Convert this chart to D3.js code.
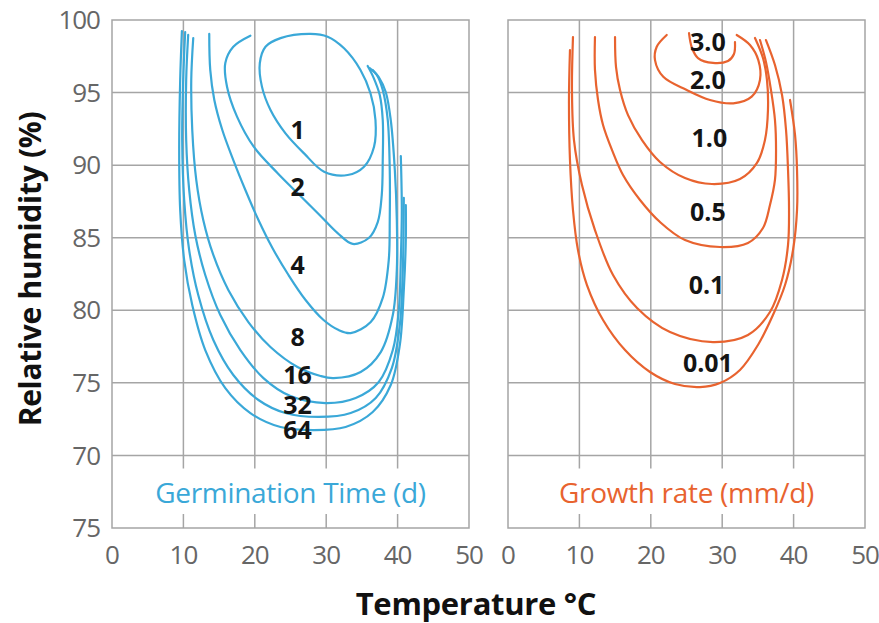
<!DOCTYPE html>
<html>
<head>
<meta charset="utf-8">
<script src="https://cdn.jsdelivr.net/npm/d3@7"></script>
<style>
	body { margin: 0; background: #fff; }
	svg text { font-family: "Open Sans", "Noto Sans", sans-serif; }
</style>
</head>
<body>
<div id="svg-container"></div>
<script>
// temperature (°C) / relative humidity (%) values
var tempTicks = [0, 10, 20, 30, 40, 50];
var humTicks = [65, 70, 75, 80, 85, 90, 95, 100];
var humTickLabels = ["75", "70", "75", "80", "85", "90", "95", "100"];

// germination time (d) isolines
var germLevels = ["1", "2", "4", "8", "16", "32", "64"];
var germ1 = [[27.8,99.04],[23.6,98.75],[21.5,98.16],[20.7,97.02],[21.0,95.41],[22.2,93.80],[24.3,92.19],[26.9,90.81],[29.7,89.55],[33.0,89.32],[35.3,89.89],[36.7,91.27],[36.9,93.11],[36.2,94.95],[34.8,96.56],[32.5,98.05],[30.2,98.85]];
var germ2 = [[19.38,98.92],[16.99,98.16],[15.87,97.04],[16.11,95.40],[17.51,93.34],[19.85,91.27],[23.17,89.46],[26.40,87.87],[29.21,86.50],[31.60,85.32],[33.71,84.57],[35.96,84.98],[37.22,86.08],[37.78,87.94],[37.92,90.35],[37.92,93.11],[37.50,94.83],[36.66,96.00],[35.81,96.83]];
var germ4 = [[13.62,99.04],[13.76,96.56],[14.33,94.49],[15.45,92.42],[16.99,90.35],[18.68,88.29],[20.51,86.22],[22.47,84.29],[24.72,82.43],[27.11,80.71],[29.63,79.33],[31.74,78.64],[33.43,78.43],[36.24,79.19],[37.92,80.85],[38.76,83.46],[38.90,86.22],[38.90,89.67],[38.62,93.11],[37.92,95.18],[37.08,96.21],[36.10,96.69]];
var germ8 = [[11.38,98.76],[11.10,95.87],[11.24,92.42],[11.80,88.98],[12.78,86.22],[14.19,83.81],[16.29,81.40],[19.10,79.19],[22.19,77.47],[25.98,76.09],[29.21,75.47],[31.04,75.33],[34.83,75.75],[37.64,77.12],[39.33,79.67],[39.89,82.78],[39.89,86.22],[39.61,89.67],[39.04,93.11],[38.34,95.04],[37.36,96.07],[36.52,96.56]];
var germ16 = [[10.67,98.97],[10.39,95.87],[10.39,91.73],[10.81,88.29],[11.66,85.19],[13.06,82.43],[15.17,79.67],[17.98,77.26],[21.21,75.33],[25.00,74.09],[29.92,73.61],[34.13,73.96],[37.36,75.06],[39.33,77.26],[40.17,80.02],[40.45,83.46],[40.59,86.91],[40.45,90.63]];
var germ32 = [[10.25,99.17],[9.97,95.87],[9.83,91.73],[10.11,87.60],[10.81,84.15],[12.08,81.05],[14.19,77.95],[16.99,75.54],[20.51,73.82],[24.30,72.92],[28.93,72.65],[33.43,72.92],[36.94,73.96],[39.19,76.02],[40.31,78.99],[40.73,82.78],[40.87,87.74]];
var germ64 = [[9.79,99.24],[9.55,95.87],[9.41,91.04],[9.55,86.91],[10.11,83.46],[11.24,80.36],[13.06,77.26],[15.87,74.64],[19.38,72.92],[23.60,71.96],[28.23,71.75],[32.72,71.96],[36.52,72.99],[39.04,74.85],[40.31,77.61],[40.87,81.40],[41.15,84.84],[41.15,87.25]];
var germLabelTemp = [26.0, 26.0, 26.0, 26.0, 26.0, 26.0, 26.0];
var germLabelHum = [92.42, 88.51, 83.12, 78.18, 75.54, 73.47, 71.75];

// growth rate (mm/d) isolines
var growthLevels = ["3.0", "2.0", "1.0", "0.5", "0.1", "0.01"];
var grow30 = [[25.35,99.10],[25.77,98.07],[26.61,97.38],[28.71,97.04],[30.81,97.18],[31.65,97.66],[31.79,98.48]];
var grow20 = [[22.23,98.97],[20.83,98.16],[20.59,97.24],[21.75,96.09],[25.03,95.18],[28.29,94.49],[31.55,94.26],[34.13,94.72],[35.29,95.87],[35.06,97.24],[33.89,98.28],[32.03,98.97]];
var grow10 = [[14.99,98.83],[15.13,96.76],[15.69,95.18],[16.81,93.45],[18.77,91.73],[21.29,90.22],[24.79,89.11],[28.57,88.70],[32.49,89.04],[34.87,90.15],[35.99,91.73],[36.41,93.80],[36.27,95.87],[35.71,97.38],[34.59,98.76]];
var grow05 = [[12.18,98.83],[12.18,96.56],[12.61,94.49],[13.31,92.77],[14.57,91.04],[16.11,89.32],[18.49,87.60],[21.29,86.08],[24.79,84.84],[29.69,84.36],[33.61,84.64],[35.71,85.67],[36.69,87.25],[37.39,88.98],[37.54,91.04],[37.39,93.11],[36.83,95.18],[36.13,97.11],[35.29,98.62]];
var grow01 = [[9.10,98.83],[8.96,95.18],[9.24,91.73],[10.36,88.63],[12.18,85.53],[14.71,82.43],[18.07,80.16],[22.69,78.50],[28.71,77.81],[33.61,78.30],[36.69,79.88],[38.38,82.09],[39.22,84.50],[39.36,86.91],[39.22,89.67],[38.94,92.42],[38.38,94.83],[37.39,96.90],[36.13,98.62]];
var grow001 = [[8.68,97.93],[8.54,94.49],[8.68,90.35],[9.10,86.91],[9.80,84.15],[11.06,81.74],[13.31,79.33],[16.39,77.26],[19.89,75.75],[23.39,74.92],[26.89,74.71],[29.69,74.99],[32.49,75.89],[35.01,77.61],[37.11,79.67],[38.80,81.74],[39.92,84.15],[40.48,86.91],[40.48,89.67],[40.20,92.08],[39.50,94.49]];
var growthLabelTemp = [28.0, 28.0, 28.2, 28.0, 27.8, 28.0];
var growthLabelHum = [98.5, 95.87, 91.87, 86.79, 81.74, 76.37];

var svg_width = 879,
	svg_height = 623,
	top_y = 20,
	bottom_y = 528,
	grid_color = "#a5a5a5",
	blue = "#3aa8d8",
	orange = "#e8632f";

var svg = d3.select("#svg-container").append("svg")
	.attr("width", svg_width)
	.attr("height", svg_height);

var y = d3.scaleLinear().domain([65, 100]).range([bottom_y, top_y]);

function drawPanel(x0, x1, curves, closedFirst, labels, labelT, labelH, color, title) {
	var x = d3.scaleLinear().domain([0, 50]).range([x0, x1]);
	var g = svg.append("g");

	// horizontal grid 70..95
	g.selectAll("line.hgrid")
		.data(humTicks.filter(function (d) { return d > 65 && d < 100; }))
		.enter().append("line")
		.attr("x1", x(0)).attr("x2", x(50))
		.attr("y1", function (d) { return y(d); })
		.attr("y2", function (d) { return y(d); })
		.attr("stroke", grid_color).attr("stroke-width", 1.5);

	// vertical grid, broken where the panel title sits
	var inner = tempTicks.filter(function (d) { return d > 0 && d < 50; });
	g.selectAll("line.vgrid")
		.data(inner).enter().append("line")
		.attr("x1", function (d) { return x(d); })
		.attr("x2", function (d) { return x(d); })
		.attr("y1", y(100)).attr("y2", y(70) + 13)
		.attr("stroke", grid_color).attr("stroke-width", 1.5);
	g.selectAll("line.vtick")
		.data(inner).enter().append("line")
		.attr("x1", function (d) { return x(d); })
		.attr("x2", function (d) { return x(d); })
		.attr("y1", y(65) - 14).attr("y2", y(65))
		.attr("stroke", grid_color).attr("stroke-width", 1.5);

	g.append("rect")
		.attr("x", x(0)).attr("y", y(100))
		.attr("width", x(50) - x(0)).attr("height", y(65) - y(100))
		.attr("fill", "none").attr("stroke", grid_color).attr("stroke-width", 1.5);

	// x tick labels
	g.selectAll("text.xt")
		.data(tempTicks).enter().append("text")
		.attr("x", function (d) { return x(d); })
		.attr("y", 555)
		.attr("dy", "0.35em")
		.attr("text-anchor", "middle")
		.attr("font-size", 26)
		.attr("letter-spacing", -1)
		.attr("fill", "#666")
		.text(function (d) { return d; });

	var line = d3.line()
		.x(function (d) { return x(d[0]); })
		.y(function (d) { return y(d[1]); })
		.curve(d3.curveCatmullRom.alpha(0.5));
	var loop = d3.line()
		.x(function (d) { return x(d[0]); })
		.y(function (d) { return y(d[1]); })
		.curve(d3.curveCatmullRomClosed.alpha(0.5));

	g.selectAll("path.iso")
		.data(curves).enter().append("path")
		.attr("d", function (d, i) { return (closedFirst && i == 0) ? loop(d) : line(d); })
		.attr("fill", "none")
		.attr("stroke", color)
		.attr("stroke-width", 2.2)
		.attr("stroke-linecap", "round");

	g.selectAll("text.lev")
		.data(labels).enter().append("text")
		.attr("x", function (d, i) { return x(labelT[i]); })
		.attr("y", function (d, i) { return y(labelH[i]); })
		.attr("dy", "0.36em")
		.attr("text-anchor", "middle")
		.attr("font-size", 25)
		.attr("font-weight", "bold")
		.attr("fill", "#141414")
		.text(function (d) { return d; });

	g.append("text")
		.attr("x", (x(0) + x(50)) / 2)
		.attr("y", 493)
		.attr("dy", "0.35em")
		.attr("text-anchor", "middle")
		.attr("font-size", 28)
		.attr("letter-spacing", -0.3)
		.attr("fill", color)
		.text(title);

	return x;
}

drawPanel(112, 469, [germ1, germ2, germ4, germ8, germ16, germ32, germ64], true,
	germLevels, germLabelTemp, germLabelHum, blue, "Germination Time (d)");
drawPanel(508, 865, [grow30, grow20, grow10, grow05, grow01, grow001], false,
	growthLevels, growthLabelTemp, growthLabelHum, orange, "Growth rate (mm/d)");

// y tick labels (left panel only)
svg.selectAll("text.yt")
	.data(humTicks).enter().append("text")
	.attr("x", 100)
	.attr("y", function (d) { return y(d); })
	.attr("dy", "0.35em")
	.attr("text-anchor", "end")
	.attr("font-size", 26)
	.attr("letter-spacing", -1)
	.attr("fill", "#666")
	.text(function (d, i) { return humTickLabels[i]; });

svg.append("text")
	.attr("transform", "translate(30,269) rotate(-90)")
	.attr("dy", "0.35em")
	.attr("text-anchor", "middle")
	.attr("font-size", 30)
	.attr("font-weight", "bold")
	.attr("letter-spacing", -0.3)
	.attr("fill", "#111")
	.text("Relative humidity (%)");

svg.append("text")
	.attr("x", 476)
	.attr("y", 604)
	.attr("dy", "0.35em")
	.attr("text-anchor", "middle")
	.attr("font-size", 31)
	.attr("font-weight", "bold")
	.attr("letter-spacing", -0.3)
	.attr("fill", "#111")
	.text("Temperature °C");
</script>
</body>
</html>
